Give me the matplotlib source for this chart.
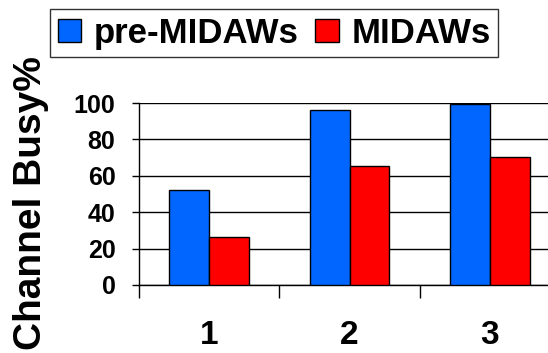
import numpy as np
import matplotlib
matplotlib.use("Agg")
import matplotlib.pyplot as plt

plt.rcParams["font.family"] = ["Liberation Sans", "DejaVu Sans"]
plt.rcParams["font.weight"] = "bold"

categories = ["1", "2", "3"]
pre_midaws = [52, 96, 99.5]
midaws = [26.5, 65.5, 70.5]
series_names = ["pre-MIDAWs", "MIDAWs"]

blue = "#0066ff"
red = "#ff0000"

fig = plt.figure(figsize=(5.48, 3.53), dpi=100)
# plot area runs a little past the right edge of the figure
ax = fig.add_axes([139 / 548, 68 / 353, 421 / 548, 182 / 353])

x = np.arange(1, len(categories) + 1)
w = 0.285
ax.bar(x - w / 2, pre_midaws, w, color=blue, edgecolor="black", lw=1.0,
       label=series_names[0], zorder=3)
ax.bar(x + w / 2, midaws, w, color=red, edgecolor="black", lw=1.0,
       label=series_names[1], zorder=3)

ax.set_xlim(0.5, len(categories) + 0.5)
ax.set_ylim(0, 100)
ax.set_yticks(np.arange(0, 101, 20))
ax.yaxis.grid(True, color="black", lw=1.0)
ax.set_axisbelow(True)

for s in ("top", "right"):
    ax.spines[s].set_visible(False)
ax.spines["left"].set_linewidth(1.0)
ax.spines["bottom"].set_linewidth(1.0)

# category boundaries get the tick marks, centres get the labels
ax.set_xticks(np.arange(0.5, len(categories) + 1, 1.0))
ax.set_xticklabels([])
ax.set_xticks(x, minor=True)
ax.set_xticklabels(categories, minor=True, fontsize=24, fontweight="bold")
ax.tick_params(axis="x", which="major", direction="out", length=9, width=1.0)
ax.tick_params(axis="x", which="minor", length=0, pad=25)
ax.tick_params(axis="y", direction="out", length=5, width=1.0, pad=12,
               labelsize=18)
for lab in ax.get_yticklabels():
    lab.set_fontweight("bold")

fig.text(31 / 548, 150 / 353, "Channel Busy%", rotation=90, ha="center",
         va="center", fontsize=28, fontweight="bold")

leg = fig.legend(loc="upper left", bbox_to_anchor=(50 / 548, 1 - 9 / 353),
                 ncol=2, fontsize=25, frameon=True, fancybox=False,
                 handlelength=0.68, handleheight=0.68, handletextpad=0.37,
                 columnspacing=0.46, borderpad=0.22, borderaxespad=0)
leg.get_frame().set_edgecolor("black")
leg.get_frame().set_linewidth(1.0)
for t in leg.get_texts():
    t.set_fontweight("bold")

fig.savefig("out.png", dpi=100)
